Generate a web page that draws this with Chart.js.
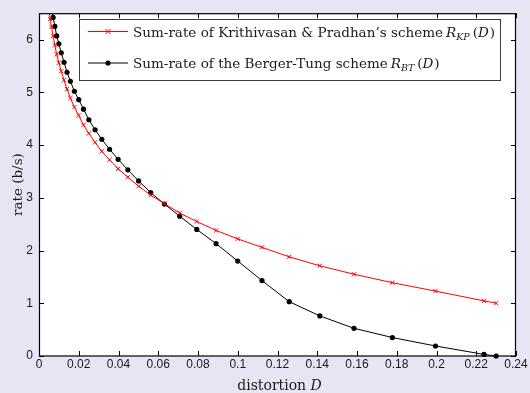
<!DOCTYPE html>
<html><head><meta charset="utf-8">
<script src="https://cdn.jsdelivr.net/npm/chart.js@4/dist/chart.umd.min.js"></script>
<style>
html,body{margin:0;padding:0;background:#e6e5f4;}
#wrap{width:530px;height:393px;position:relative;}
canvas{display:block;}
</style>
</head><body>
<div id="wrap"><canvas id="c" width="530" height="393"></canvas></div>
<script>
// ---- data ----
const xTicks = [0, 0.02, 0.04, 0.06, 0.08, 0.1, 0.12, 0.14, 0.16, 0.18, 0.2, 0.22, 0.24];
const yTicks = [0, 1, 2, 3, 4, 5, 6];

const dKP = [0.0050, 0.0056, 0.0063, 0.0071, 0.0080, 0.0089, 0.0100, 0.0112, 0.0126, 0.0141, 0.0158, 0.0178, 0.0200, 0.0224, 0.0251, 0.0282, 0.0316, 0.0355, 0.0398, 0.0447, 0.0501, 0.0562, 0.0631, 0.0708, 0.0794, 0.0891, 0.1000, 0.1122, 0.1259, 0.1413, 0.1585, 0.1778, 0.1995, 0.2239, 0.2300];
const rateKP = [6.56, 6.39, 6.24, 6.07, 5.89, 5.72, 5.56, 5.40, 5.23, 5.06, 4.89, 4.72, 4.56, 4.38, 4.22, 4.05, 3.88, 3.72, 3.55, 3.39, 3.22, 3.05, 2.89, 2.71, 2.55, 2.38, 2.22, 2.06, 1.88, 1.71, 1.55, 1.39, 1.23, 1.045, 1.00];

const dBT = [0.0063, 0.0071, 0.0080, 0.0089, 0.0100, 0.0112, 0.0126, 0.0141, 0.0158, 0.0178, 0.0200, 0.0224, 0.0251, 0.0282, 0.0316, 0.0355, 0.0398, 0.0447, 0.0501, 0.0562, 0.0631, 0.0708, 0.0794, 0.0891, 0.1000, 0.1122, 0.1259, 0.1413, 0.1585, 0.1778, 0.1995, 0.2239, 0.2300];
const rateBT = [6.60, 6.42, 6.25, 6.07, 5.92, 5.75, 5.57, 5.38, 5.21, 5.02, 4.86, 4.68, 4.48, 4.29, 4.11, 3.92, 3.73, 3.53, 3.32, 3.10, 2.88, 2.65, 2.40, 2.13, 1.80, 1.43, 1.03, 0.76, 0.525, 0.35, 0.19, 0.03, 0.00];

const seriesNames = ["Sum-rate of Krithivasan & Pradhan\u2019s scheme", "Sum-rate of the Berger-Tung scheme"];
const seriesMath = [["R", "KP", "D"], ["R", "BT", "D"]];
const xTitle = ["distortion ", "D"];
const yTitle = "rate (b/s)";

// ---- chart ----
const Y_MAX = 6.5;
const SERIF = '"DejaVu Serif", "Liberation Serif", serif';
const SANS = '"Liberation Sans", Arial, sans-serif';

function pts(xs, ys){ return xs.map((x,i)=>({x:x, y:ys[i]})); }
const radiusFn = (r) => (c) => (c.raw && c.raw.y > Y_MAX ? 0 : r);

function richWidth(ctx, segs, size){
  let w = 0;
  for (const s of segs){
    const fs = s.sub ? size*0.7 : size;
    ctx.font = (s.it ? 'italic ' : '') + fs.toFixed(2) + 'px ' + SERIF;
    w += ctx.measureText(s.t).width + (s.gap||0);
  }
  return w;
}
function drawRich(ctx, x, y, segs, size){
  for (const s of segs){
    const fs = s.sub ? size*0.7 : size;
    ctx.font = (s.it ? 'italic ' : '') + fs.toFixed(2) + 'px ' + SERIF;
    const yy = s.sub ? y + size*0.25 : y;
    ctx.fillText(s.t, x, yy);
    x += ctx.measureText(s.t).width + (s.gap||0);
  }
  return x;
}

const decor = {
  id: 'decor',
  beforeDraw(chart){
    const {ctx, chartArea:a} = chart;
    ctx.save();
    ctx.fillStyle = '#ffffff';
    ctx.fillRect(a.left, a.top, a.right-a.left, a.bottom-a.top);
    ctx.restore();
  },
  afterDraw(chart){
    const {ctx, chartArea:a} = chart;
    const xs = chart.scales.x, ys = chart.scales.y;
    ctx.save();
    // ticks inward on all four sides
    ctx.strokeStyle = '#000'; ctx.lineWidth = 1;
    ctx.beginPath();
    for (const v of xTicks){
      const px = Math.round(xs.getPixelForValue(v)) + 0.5;
      ctx.moveTo(px, a.bottom); ctx.lineTo(px, a.bottom-5);
      ctx.moveTo(px, a.top); ctx.lineTo(px, a.top+5);
    }
    for (const v of yTicks){
      const py = Math.round(ys.getPixelForValue(v)) + 0.5;
      ctx.moveTo(a.left, py); ctx.lineTo(a.left+5, py);
      ctx.moveTo(a.right, py); ctx.lineTo(a.right-5, py);
    }
    ctx.stroke();
    // box
    ctx.lineWidth = 1.2;
    ctx.strokeRect(a.left+0.5, a.top+0.5, a.right-a.left-1, a.bottom-a.top-0.5);

    // legend
    const lx = 79.5, ly = 19.5, lw = 421, lh = 61;
    ctx.fillStyle = '#fff';
    ctx.fillRect(lx, ly, lw, lh);
    ctx.strokeStyle = '#3c3c3c'; ctx.lineWidth = 1;
    ctx.strokeRect(lx, ly, lw, lh);
    ctx.textBaseline = 'alphabetic'; ctx.textAlign = 'left';
    // fit font to reference text widths
    ctx.font = '13px ' + SERIF;
    const w1 = ctx.measureText(seriesNames[0]).width, w2 = ctx.measureText(seriesNames[1]).width;
    const size = 13 * (300 + 265) / (w1 + w2);
    const rowY = [31.5, 63];
    const colors = ['#ff0000', '#000000'];
    chart.data.datasets.forEach((ds, i) => {
      const y = rowY[i];
      ctx.strokeStyle = colors[i]; ctx.lineWidth = 1;
      ctx.beginPath(); ctx.moveTo(88, y); ctx.lineTo(128, y); ctx.stroke();
      if (i === 0){
        ctx.beginPath();
        ctx.moveTo(105.5, y-2.5); ctx.lineTo(110.5, y+2.5);
        ctx.moveTo(110.5, y-2.5); ctx.lineTo(105.5, y+2.5);
        ctx.stroke();
      } else {
        ctx.fillStyle = '#000';
        ctx.beginPath(); ctx.arc(108, y, 2.6, 0, Math.PI*2); ctx.fill();
      }
      ctx.fillStyle = '#1a1a1a';
      const m = seriesMath[i];
      drawRich(ctx, 133, y + 5, [
        {t: seriesNames[i], gap: 3},
        {t: m[0], it: true},
        {t: m[1], it: true, sub: true, gap: 3},
        {t: '('},
        {t: m[2], it: true, gap: 1},
        {t: ')'}
      ], size);
    });

    // axis titles
    ctx.fillStyle = '#1a1a1a';
    const xSegs = [{t: xTitle[0]}, {t: xTitle[1], it: true}];
    const xw = richWidth(ctx, xSegs, 14);
    drawRich(ctx, (a.left + a.right)/2 - xw/2 + 2, 390, xSegs, 14);
    ctx.translate(22, (a.top + a.bottom)/2);
    ctx.rotate(-Math.PI/2);
    ctx.textAlign = 'center';
    ctx.font = '13.5px ' + SERIF;
    ctx.fillText(yTitle, 0, 0);
    ctx.restore();
  }
};

new Chart(document.getElementById('c'), {
  type: 'scatter',
  data: {
    datasets: [
      {
        label: seriesNames[0],
        data: pts(dKP, rateKP),
        showLine: true,
        borderColor: '#ff0000', backgroundColor: '#ff0000',
        borderWidth: 1,
        pointStyle: 'crossRot',
        pointRadius: radiusFn(3), pointBorderWidth: 1,
        pointBorderColor: '#ff0000',
        tension: 0,
        clip: {left: 5, right: 5, top: 0, bottom: 5}
      },
      {
        label: seriesNames[1],
        data: pts(dBT, rateBT),
        showLine: true,
        borderColor: '#000000', backgroundColor: '#000000',
        borderWidth: 1,
        pointStyle: 'circle',
        pointRadius: radiusFn(2.6), pointBorderWidth: 0,
        tension: 0,
        clip: {left: 5, right: 5, top: 0, bottom: 5}
      }
    ]
  },
  options: {
    responsive: false,
    animation: false,
    devicePixelRatio: 1,
    layout: {padding: {left: 0, top: 8, right: 14, bottom: 0}},
    plugins: {legend: {display: false}, tooltip: {enabled: false}},
    scales: {
      x: {
        type: 'linear', min: 0, max: 0.24,
        afterFit: s => { s.height = 37; },
        afterBuildTicks: s => { s.ticks = xTicks.map(v => ({value: v})); },
        grid: {display: false, drawTicks: false},
        border: {display: false},
        ticks: {
          padding: 1, color: '#1a1a1a', font: {family: SANS, size: 12},
          callback: v => String(Number(v.toFixed(2))),
          maxRotation: 0, autoSkip: false
        }
      },
      y: {
        type: 'linear', min: 0, max: Y_MAX,
        afterFit: s => { s.width = 39; },
        afterBuildTicks: s => { s.ticks = yTicks.map(v => ({value: v})); },
        grid: {display: false, drawTicks: false},
        border: {display: false},
        ticks: {
          padding: 6, color: '#1a1a1a', font: {family: SANS, size: 12},
          autoSkip: false
        }
      }
    }
  },
  plugins: [decor]
});
</script>
</body></html>
